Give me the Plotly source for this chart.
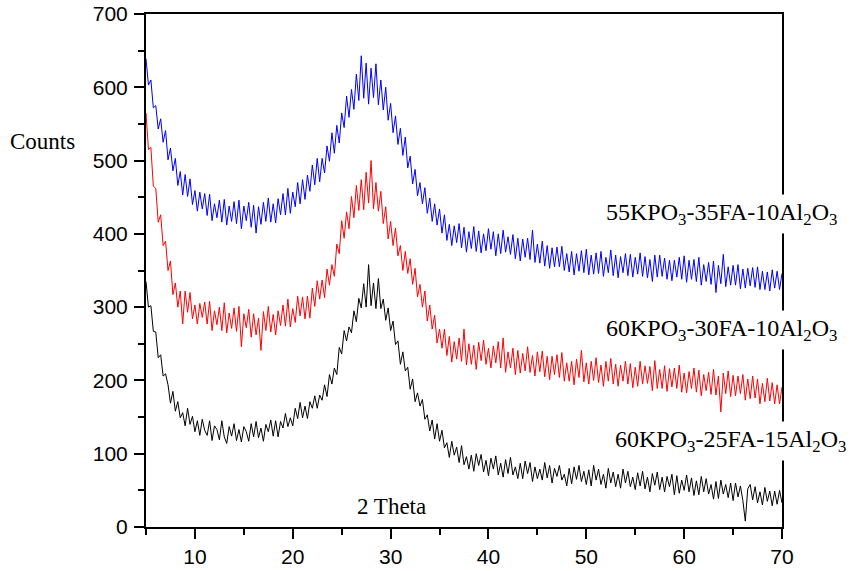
import numpy as np
import plotly.graph_objects as go

# 2-theta sampling grid (degrees), step 0.25 from 5 to 70
two_theta = np.linspace(5, 70, 261)

counts_60_25_15 = [
    335, 300, 302, 267, 266,
    231, 235, 206, 209, 194, 169, 185, 158, 171, 149, 156, 138, 162, 140, 151, 130,
    145, 125, 147, 132, 125, 145, 118, 138, 133, 119, 145, 123, 114, 137, 124, 141,
    118, 133, 116, 137, 130, 117, 141, 123, 144, 122, 135, 117, 140, 130, 146, 124,
    145, 123, 144, 135, 155, 137, 149, 138, 162, 148, 170, 149, 165, 148, 171, 162,
    179, 162, 180, 173, 194, 178, 208, 195, 217, 208, 245, 236, 268, 254, 273, 265,
    295, 280, 312, 299, 332, 300, 358, 302, 333, 298, 339, 298, 311, 282, 299, 268,
    281, 249, 254, 222, 239, 213, 218, 188, 202, 171, 183, 165, 174, 147, 153, 131,
    146, 120, 141, 117, 132, 108, 115, 95, 117, 98, 109, 88, 111, 85, 96, 79,
    98, 76, 100, 84, 99, 75, 91, 70, 94, 79, 97, 71, 87, 68, 92, 73,
    95, 71, 82, 66, 87, 66, 90, 73, 88, 62, 82, 66, 79, 64, 88, 67,
    84, 60, 80, 69, 84, 64, 72, 56, 80, 59, 82, 65, 84, 62, 76, 58,
    78, 56, 84, 64, 79, 58, 72, 53, 80, 60, 75, 55, 72, 53, 79, 60,
    76, 55, 68, 51, 74, 56, 76, 52, 68, 48, 73, 57, 75, 51, 68, 48,
    69, 55, 72, 44, 70, 46, 64, 50, 71, 48, 67, 43, 63, 44, 69, 48,
    66, 45, 58, 38, 62, 39, 64, 45, 58, 40, 60, 36, 60, 41, 56, 36,
    8, 52, 58, 37, 55, 33, 48, 30, 54, 35, 49, 29, 49, 31, 50, 33,
]

counts_60_30_10 = [
    565, 515, 518, 465, 462,
    416, 426, 384, 390, 350, 363, 317, 333, 300, 322, 277, 322, 293, 320, 284, 303,
    277, 305, 286, 307, 277, 308, 268, 295, 276, 300, 268, 306, 265, 292, 271, 299,
    267, 301, 246, 291, 272, 297, 259, 291, 262, 285, 241, 294, 268, 301, 266, 290,
    262, 295, 275, 303, 274, 311, 273, 298, 279, 315, 288, 314, 284, 315, 285, 326,
    301, 336, 311, 337, 313, 352, 330, 358, 342, 386, 373, 418, 394, 430, 407, 451,
    422, 466, 432, 474, 433, 484, 442, 500, 434, 470, 431, 458, 414, 437, 393, 417,
    384, 408, 370, 384, 350, 376, 346, 366, 331, 353, 314, 331, 300, 322, 281, 303,
    270, 289, 251, 270, 244, 270, 234, 260, 225, 253, 229, 258, 226, 270, 221, 250,
    222, 248, 215, 252, 227, 255, 222, 244, 217, 247, 224, 253, 217, 258, 211, 239,
    217, 244, 208, 241, 210, 237, 213, 246, 211, 234, 206, 239, 212, 240, 205, 233,
    201, 233, 208, 235, 204, 238, 199, 224, 199, 226, 194, 229, 204, 241, 198, 224,
    195, 226, 200, 231, 197, 221, 192, 226, 199, 230, 195, 222, 192, 221, 199, 226,
    195, 223, 190, 218, 192, 226, 195, 220, 196, 219, 186, 227, 189, 215, 189, 220,
    185, 216, 191, 217, 189, 221, 184, 210, 183, 212, 189, 217, 184, 214, 179, 208,
    186, 211, 181, 215, 180, 206, 157, 210, 182, 213, 178, 207, 179, 206, 182, 208,
    173, 202, 175, 206, 176, 202, 168, 196, 171, 203, 172, 197, 168, 194, 168, 191,
]

counts_55_35_10 = [
    639, 603, 610, 572, 575,
    543, 557, 525, 541, 501, 517, 486, 503, 466, 485, 453, 481, 451, 475, 440, 459,
    431, 457, 434, 455, 425, 454, 418, 441, 422, 446, 416, 447, 412, 438, 417, 444,
    414, 446, 407, 438, 418, 443, 409, 439, 401, 437, 413, 443, 417, 449, 416, 441,
    415, 448, 426, 455, 426, 462, 428, 457, 437, 470, 441, 474, 447, 480, 458, 494,
    467, 503, 471, 503, 483, 520, 499, 538, 510, 548, 524, 565, 545, 588, 559, 597,
    570, 618, 582, 643, 585, 633, 577, 626, 586, 632, 576, 610, 569, 600, 555, 578,
    538, 561, 522, 544, 507, 532, 490, 506, 468, 488, 452, 470, 441, 463, 428, 449,
    417, 441, 412, 434, 401, 426, 391, 413, 384, 411, 388, 414, 381, 409, 375, 403,
    380, 410, 376, 404, 374, 400, 377, 407, 379, 403, 370, 400, 373, 405, 375, 396,
    372, 399, 366, 394, 363, 393, 368, 394, 365, 405, 361, 386, 360, 390, 356, 384,
    353, 381, 355, 382, 355, 383, 350, 373, 348, 376, 344, 373, 349, 377, 347, 379,
    344, 371, 345, 374, 346, 376, 342, 368, 347, 378, 343, 371, 340, 369, 347, 373,
    343, 372, 341, 368, 345, 374, 342, 369, 340, 365, 335, 371, 341, 371, 342, 367,
    338, 364, 336, 364, 341, 368, 338, 370, 334, 364, 338, 365, 335, 368, 330, 358,
    335, 361, 331, 363, 320, 357, 332, 372, 328, 355, 330, 357, 330, 358, 325, 352,
    326, 353, 329, 354, 327, 355, 324, 349, 324, 348, 322, 351, 326, 349, 324, 346,
]

series_names = [
    "60KPO<sub>3</sub>-25FA-15Al<sub>2</sub>O<sub>3</sub>",
    "60KPO<sub>3</sub>-30FA-10Al<sub>2</sub>O<sub>3</sub>",
    "55KPO<sub>3</sub>-35FA-10Al<sub>2</sub>O<sub>3</sub>",
]
series_values = [counts_60_25_15, counts_60_30_10, counts_55_35_10]
series_colors = ["#000000", "#ff0000", "#0000ff"]

for v in series_values:
    assert len(v) == len(two_theta)

fig = go.Figure()
for name, vals, col in zip(series_names, series_values, series_colors):
    fig.add_trace(go.Scatter(x=two_theta, y=vals, mode="lines", name=name,
                             line=dict(color=col, width=1), showlegend=False))

serif = "Liberation Serif"
label_pos = [(1.108, 0.168), (1.094, 0.384), (1.094, 0.610)]
for name, (px, py) in zip(series_names, label_pos):
    fig.add_annotation(text=name, xref="paper", yref="paper", x=px, y=py,
                       xanchor="right", yanchor="middle", showarrow=False,
                       bgcolor="white", borderpad=4,
                       font=dict(family=serif, size=24, color="black"))

fig.add_annotation(text="Counts", xref="paper", yref="paper", x=-0.162, y=0.752,
                   xanchor="center", yanchor="middle", showarrow=False,
                   font=dict(family=serif, size=23, color="black"))
fig.add_annotation(text="2 Theta", xref="x", yref="paper", x=30.1, y=0.039,
                   xanchor="center", yanchor="middle", showarrow=False,
                   font=dict(family=serif, size=23, color="black"))

axis_common = dict(showline=True, linecolor="black", linewidth=2, mirror=True,
                   showgrid=False, zeroline=False, ticks="outside",
                   tickcolor="black", tickwidth=2, ticklen=10, automargin=False,
                   tickfont=dict(family="Liberation Sans", size=21, color="black"))

fig.update_xaxes(range=[5, 70], tick0=0, dtick=10,
                 minor=dict(ticks="outside", dtick=5, ticklen=6, tickwidth=2, tickcolor="black"),
                 **axis_common)
fig.update_yaxes(range=[0, 700], tick0=0, dtick=100, ticklabelstandoff=2,
                 minor=dict(ticks="outside", dtick=50, ticklen=6, tickwidth=2, tickcolor="black"),
                 **axis_common)

fig.update_layout(width=854, height=571, paper_bgcolor="white", plot_bgcolor="white",
                  margin=dict(l=146, r=72, t=14, b=44))

fig.write_html("out.html", config={"displayModeBar": False},
               post_script="document.body.style.margin='0';document.body.style.overflow='hidden';")
